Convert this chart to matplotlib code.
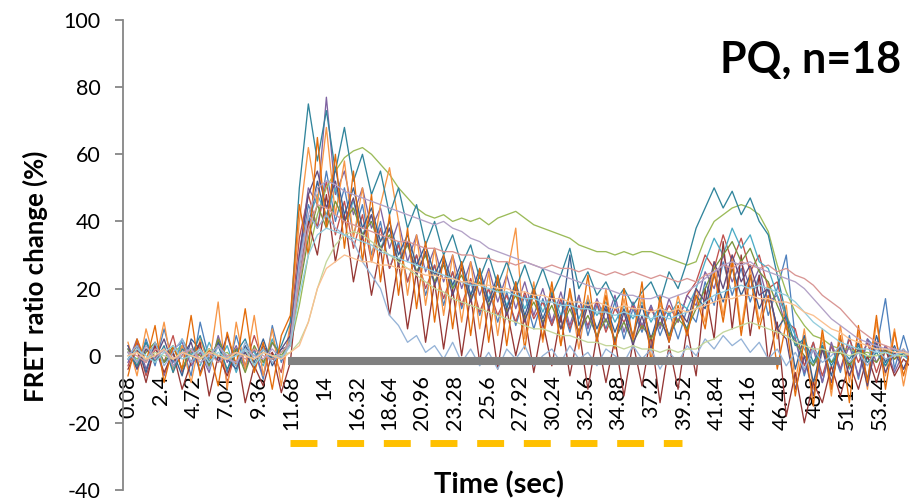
import numpy as np
import matplotlib
matplotlib.use('Agg')
import matplotlib.pyplot as plt

plt.rcParams['font.family'] = ['Lato', 'DejaVu Sans']
plt.rcParams['lines.scale_dashes'] = False
plt.rcParams['axes.unicode_minus'] = False

# sample times (sec), one value every 0.64 s
time = 0.08 + 0.64 * np.arange(88)

# FRET ratio change (%) for the 18 cells
cell01 = [2, -4, 5, -3, 8, -2, 3, -6, 10, -1, 4, -5, 6, -3, 2, -7, 9, -2,
          5, 28, 45, 38, 55, 40, 50, 36, 45, 30,
          40, 26, 34, 22, 30, 18, 27, 15, 25, 14,
          22, 12, 20, 10, 19, 9, 18, 8, 17, 9,
          16, 7, 18, 6, 15, 8, 16, 5, 14, 7,
          15, 6, 13, 5, 14, 10, 22, 15, 28, 18,
          26, 16, 24, 12, 20, 30, 5, -6, 4, -8,
          3, -5, 6, -7, 5, 2, 17, -4, 6, -3]
cell02 = [-3, 4, -6, 2, -2, 6, -5, 1, 3, -4, 5, -8, 2, -3, 6, -2, 1, -5,
          8, 35, 48, 38, 52, 36, 46, 32, 42, 28,
          38, 26, 33, 22, 30, 20, 27, 17, 25, 15,
          23, 13, 20, 12, 18, 10, 19, 11, 16, 9,
          17, 8, 15, 9, 16, 7, 14, 10, 15, 8,
          14, 9, 15, 10, 18, 22, 30, 26, 36, 28,
          35, 25, 30, 20, 22, 10, 8, -3, 4, -6,
          3, -4, 5, -2, 4, -5, 3, -1, 2, -3]
cell03 = [1, -1, 2, 0, -2, 1, 3, 0, -1, 2, 0, 1, -2, 1, 0, 2, -1, 1,
          3, 15, 30, 42, 50, 55, 59, 61, 62, 60,
          57, 54, 50, 47, 44, 42, 41, 42, 40, 41,
          40, 41, 39, 41, 42, 43, 41, 39, 38, 37,
          36, 35, 33, 32, 31, 31, 30, 31, 30, 31,
          31, 30, 29, 28, 27, 28, 35, 40, 42, 44,
          45, 44, 42, 37, 27, 19, 13, 9, 6, 5,
          3, 2, 2, 1, 1, 0, 1, 0, 1, 0]
cell04 = [-2, 5, -4, 3, -6, 2, 4, -3, 1, -5, 6, -2, 3, -4, 2, -6, 4, -1,
          4, 30, 50, 45, 77, 48, 55, 42, 50, 38,
          44, 32, 40, 28, 36, 25, 32, 22, 30, 20,
          28, 18, 26, 16, 24, 14, 22, 12, 20, 10,
          19, 9, 18, 8, 17, 10, 18, 7, 16, 9,
          15, 8, 17, 10, 18, 15, 25, 20, 30, 22,
          28, 20, 26, 16, 18, 8, 5, -5, 2, -8,
          4, -4, 3, -6, 5, -2, 3, -5, 1, -3]
cell05 = [3, -2, 4, -1, 2, -4, 5, 0, -3, 4, -2, 3, -5, 2, 1, -3, 5, -1,
          6, 25, 40, 48, 42, 50, 40, 46, 36, 42,
          32, 38, 28, 34, 25, 30, 22, 28, 20, 26,
          18, 24, 17, 22, 15, 21, 14, 20, 13, 19,
          12, 18, 11, 17, 12, 16, 10, 15, 11, 16,
          10, 15, 12, 16, 14, 20, 28, 35, 30, 38,
          32, 36, 28, 26, 18, 12, 6, 2, -3, 4,
          -2, 3, -4, 2, -1, 4, -3, 2, 0, -2]
cell06 = [4, -6, 8, -2, 10, -5, 3, -8, 5, -3, 16, -10, 10, -4, 12, -6, 8, -9,
          10, 40, 62, 45, 68, 42, 58, 35, 50, 28,
          45, 56, 40, 18, 36, 15, 32, 12, 30, 10,
          28, 8, 25, 6, 24, 38, 5, 22, 4, 20,
          3, 19, 2, 18, 5, 20, 3, 17, 4, 18,
          2, 16, 5, 18, 6, 20, 10, 28, 12, 30,
          8, 26, 10, 22, 5, 15, -8, 8, -10, 6,
          -12, 9, -8, 7, -10, 10, -6, 8, -9, 5]
cell07 = [-1, 3, -5, 4, -2, 1, -6, 5, 2, -3, 4, -1, -4, 3, -2, 5, -3, 2,
          3, 22, 38, 52, 40, 56, 42, 50, 38, 44,
          34, 40, 30, 36, 27, 33, 24, 30, 21, 28,
          18, 26, 16, 24, 14, 22, 12, 20, 11, 18,
          10, 30, 9, 16, 8, 15, 7, 14, 6, 15,
          5, 14, 6, 13, 8, 18, 14, 24, 16, 26,
          18, 24, 14, 20, 8, 12, -4, 6, -8, 3,
          -6, 5, -3, 4, -7, 6, -2, 3, -4, 2]
cell08 = [-4, 2, -8, 3, -5, 1, -10, -2, 4, -12, 0, -6, 2, -14, -3, -9, 1, -11,
          -2, 25, 40, 30, 48, 28, 42, 22, 36, 18,
          32, 12, 28, 8, 25, 4, 22, 2, 20, 0,
          18, -2, 15, -4, 14, 0, 12, -5, 10, -3,
          12, -6, 8, -10, 6, -8, 5, -12, 4, -9,
          6, -14, 3, -10, 8, -6, 20, 5, 34, 8,
          30, 6, 24, -2, 10, -18, -5, -20, -8, -14,
          -3, -12, -2, -10, 0, -8, 2, -6, -1, -4]
cell09 = [2, -3, 1, 4, -2, 3, -4, 2, 0, -3, 5, -1, 2, -5, 3, -2, 4, 0,
          4, 20, 35, 45, 38, 46, 40, 44, 36, 40,
          32, 36, 28, 33, 25, 30, 22, 27, 20, 24,
          17, 22, 15, 20, 13, 18, 11, 16, 10, 15,
          8, 14, 7, 12, 6, 11, 5, 10, 4, 9,
          5, 10, 6, 11, 8, 14, 20, 26, 30, 34,
          28, 32, 25, 22, 15, 9, 4, 0, -3, 2,
          -2, 1, -3, 2, 0, -2, 2, -1, 1, 0]
cell10 = [3, -4, 2, -1, 5, -3, 0, 4, -5, 2, -2, 6, -3, 1, -4, 3, -1, 2,
          6, 30, 48, 55, 44, 52, 40, 47, 35, 42,
          31, 38, 27, 34, 24, 31, 21, 28, 18, 26,
          16, 24, 14, 22, 12, 20, 10, 19, 9, 18,
          8, 16, 6, 15, 5, 14, 4, 13, 3, 12,
          2, 12, 4, 14, 10, 20, 16, 28, 20, 30,
          22, 27, 18, 20, 8, 5, -10, 0, -12, 2,
          -8, 3, -6, 2, -9, 4, -5, 1, -4, 2]
cell11 = [1, -3, 4, -2, 3, -5, 2, 0, 6, -2, 3, -4, 1, 5, -3, 2, -1, 3,
          10, 50, 75, 58, 73, 55, 68, 52, 60, 48,
          55, 42, 50, 38, 45, 33, 40, 30, 36, 27,
          33, 23, 30, 21, 28, 20, 27, 19, 26, 18,
          24, 32, 20, 25, 18, 22, 16, 20, 15, 19,
          22, 16, 25, 20, 28, 38, 44, 50, 44, 49,
          42, 47, 40, 36, 24, 12, 3, 5, -2, 3,
          -3, 2, -1, 3, -2, 1, -3, 2, 0, 1]
cell12 = [-6, 5, -2, 9, -8, 3, -4, 12, -6, 2, -9, 7, -3, 14, -5, 4, -10, 6,
          12, 45, 30, 65, 38, 60, 32, 55, 28, 48,
          22, 42, 18, 38, 14, 34, 10, 30, 8, 28,
          6, 26, 4, 24, 3, 22, 2, 20, 5, 22,
          3, 20, 6, 24, 4, 18, 2, 20, 5, 22,
          -2, 18, 4, 15, 6, 18, 8, 25, 10, 28,
          6, 24, 8, 18, -4, 10, -12, 5, -15, 8,
          -10, 6, -14, 9, -8, 12, -10, 7, -6, 4]
cell13 = [0, 3, -2, 4, -3, 1, 5, -2, 2, -4, 3, 0, -3, 4, -1, 2, -2, 1,
          4, 28, 42, 38, 42, 38, 36, 34, 28, 24,
          20, 12, 9, 4, 6, 1, 3, -1, 4, -2,
          2, -3, 1, -4, 2, -1, 3, -3, 0, 2,
          -2, 3, -1, 1, -3, 2, 0, -2, 3, -1,
          2, -4, 1, -2, 3, 0, 5, 2, 6, 3,
          5, 1, 4, -1, 2, -3, 1, -4, 2, -2,
          0, 3, -2, 1, -3, 2, -1, 0, 2, -1]
cell14 = [1, 0, -2, 2, 1, -1, 0, 2, -1, 1, -2, 0, 1, -1, 2, 0, -1, 1,
          4, 22, 38, 45, 44, 42, 40, 39, 38, 37,
          36, 35, 34, 34, 33, 32, 32, 31, 31, 30,
          30, 29, 29, 28, 28, 27, 28, 27, 26, 27,
          26, 26, 25, 26, 25, 24, 25, 24, 25, 24,
          23, 24, 23, 22, 23, 22, 24, 25, 27, 26,
          28, 27, 26, 27, 25, 26, 24, 23, 21, 18,
          16, 14, 11, 8, 6, 4, 3, 2, 1, 1]
cell15 = [0, 1, -1, 1, 0, -1, 1, 0, -1, 2, 0, -1, 1, 0, -1, 1, 0, 0,
          1, 4, 10, 20, 28, 33, 36, 37, 36, 34,
          32, 30, 28, 26, 24, 22, 20, 19, 17, 16,
          15, 14, 13, 12, 11, 10, 9, 8, 8, 7,
          6, 6, 5, 4, 4, 3, 3, 2, 3, 2,
          2, 1, 2, 1, 2, 2, 4, 5, 7, 8,
          9, 10, 9, 8, 7, 6, 4, 3, 2, 2,
          1, 1, 0, 1, 0, 0, 1, 0, 0, 1]
cell16 = [1, -2, 3, -1, 2, -3, 1, 2, -2, 0, 3, -1, -2, 2, 0, -1, 2, -1,
          4, 25, 42, 50, 52, 51, 49, 48, 47, 46,
          45, 44, 43, 42, 41, 40, 39, 40, 38, 37,
          35, 34, 32, 31, 30, 29, 28, 27, 26, 25,
          24, 23, 22, 21, 20, 20, 19, 18, 18, 17,
          17, 18, 17, 18, 19, 21, 23, 25, 27, 28,
          27, 28, 26, 25, 24, 23, 22, 20, 17, 14,
          11, 9, 7, 5, 4, 3, 2, 2, 1, 1]
cell17 = [-1, 2, 0, -2, 1, 3, -1, 0, 2, -2, 1, -1, 0, 2, -3, 1, 0, -1,
          3, 18, 30, 36, 38, 37, 36, 35, 34, 33,
          31, 30, 29, 28, 27, 26, 25, 24, 23, 22,
          21, 21, 20, 19, 19, 18, 17, 17, 16, 16,
          15, 15, 14, 14, 13, 13, 12, 13, 12, 12,
          11, 12, 11, 12, 13, 14, 16, 18, 19, 20,
          21, 20, 21, 20, 19, 18, 16, 13, 10, 8,
          6, 4, 3, 2, 2, 1, 1, 0, 1, 0]
cell18 = [0, 1, -1, 0, 2, -1, 1, 0, -1, 1, 0, -1, 1, 0, -1, 1, 0, -1,
          1, 3, 10, 20, 26, 28, 30, 29, 28, 28,
          27, 27, 26, 26, 25, 24, 24, 23, 23, 22,
          22, 21, 21, 20, 20, 19, 19, 18, 18, 17,
          17, 16, 16, 15, 16, 15, 14, 15, 14, 14,
          13, 14, 13, 14, 13, 14, 15, 16, 17, 17,
          18, 18, 17, 17, 16, 16, 15, 13, 12, 10,
          8, 7, 5, 4, 3, 2, 2, 1, 1, 0]

cells = [cell01, cell02, cell03, cell04, cell05, cell06, cell07, cell08, cell09,
         cell10, cell11, cell12, cell13, cell14, cell15, cell16, cell17, cell18]
colors = ['#4F81BD', '#C0504D', '#9BBB59', '#8064A2', '#4BACC6', '#F79646',
          '#376092', '#953735', '#77933C', '#604A7B', '#31859C', '#E46C0A',
          '#95B3D7', '#D99694', '#C3D69B', '#B3A2C7', '#93CDDD', '#FAC090']

# drug application bar and stimulation train
drug_t = [11.45, 46.4]
drug_y = [-1.5, -1.5]
stim_t = [11.6, 39.4]
stim_y = [-26, -26]

tick_vals = [0.08, 2.4, 4.72, 7.04, 9.36, 11.68, 14, 16.32, 18.64, 20.96, 23.28,
             25.6, 27.92, 30.24, 32.56, 34.88, 37.2, 39.52, 41.84, 44.16, 46.48,
             48.8, 51.12, 53.44]
tick_labels = ['0.08', '2.4', '4.72', '7.04', '9.36', '11.68', '14', '16.32',
               '18.64', '20.96', '23.28', '25.6', '27.92', '30.24', '32.56',
               '34.88', '37.2', '39.52', '41.84', '44.16', '46.48', '48.8',
               '51.12', '53.44']

fig = plt.figure(figsize=(9.09, 5.0), dpi=100)
ax = fig.add_axes([123/909, 10/500, 786/909, 470/500])

# x axis crosses at 0 (set before ticks, it resets them)
ax.spines['bottom'].set_position(('data', 0))
ax.spines['bottom'].set_color('none')
ax.spines['top'].set_visible(False)
ax.spines['right'].set_visible(False)
ax.spines['left'].set_color('#868686')
ax.spines['left'].set_linewidth(1.3)

for vals, c in zip(cells, colors):
    ax.plot(time[:len(vals)], vals, color=c, lw=0.95)

ax.plot(drug_t, drug_y, color='#808080', lw=5.8, solid_capstyle='butt', zorder=5)
ax.plot(stim_t, stim_y, color='#FFC000', lw=5, linestyle=(0, (19.4, 14.2)),
        dash_capstyle='butt', zorder=5)

ax.set_xlim(-0.275, 55.51)
ax.set_ylim(-40, 100)
ax.set_yticks(range(-40, 101, 20))
ax.set_xticks(tick_vals)
ax.set_xticklabels(tick_labels)
ax.tick_params(axis='y', length=6, width=1.3, color='#868686', labelsize=15.5, pad=10)
ax.tick_params(axis='x', length=0, pad=14, labelsize=15.5, labelrotation=90)

fig.text(35/909, 1 - 276/500, 'FRET ratio change (%)', rotation=90, ha='center',
         va='center', fontsize=18.5, fontweight='bold')
fig.text(499/909, 1 - 493/500, 'Time (sec)', ha='center', va='baseline',
         fontsize=21, fontweight='bold')
fig.text(901/909, 1 - 73/500, 'PQ, n=18', ha='right', va='baseline',
         fontsize=31, fontweight='bold')

fig.savefig('out.png', dpi=100)
